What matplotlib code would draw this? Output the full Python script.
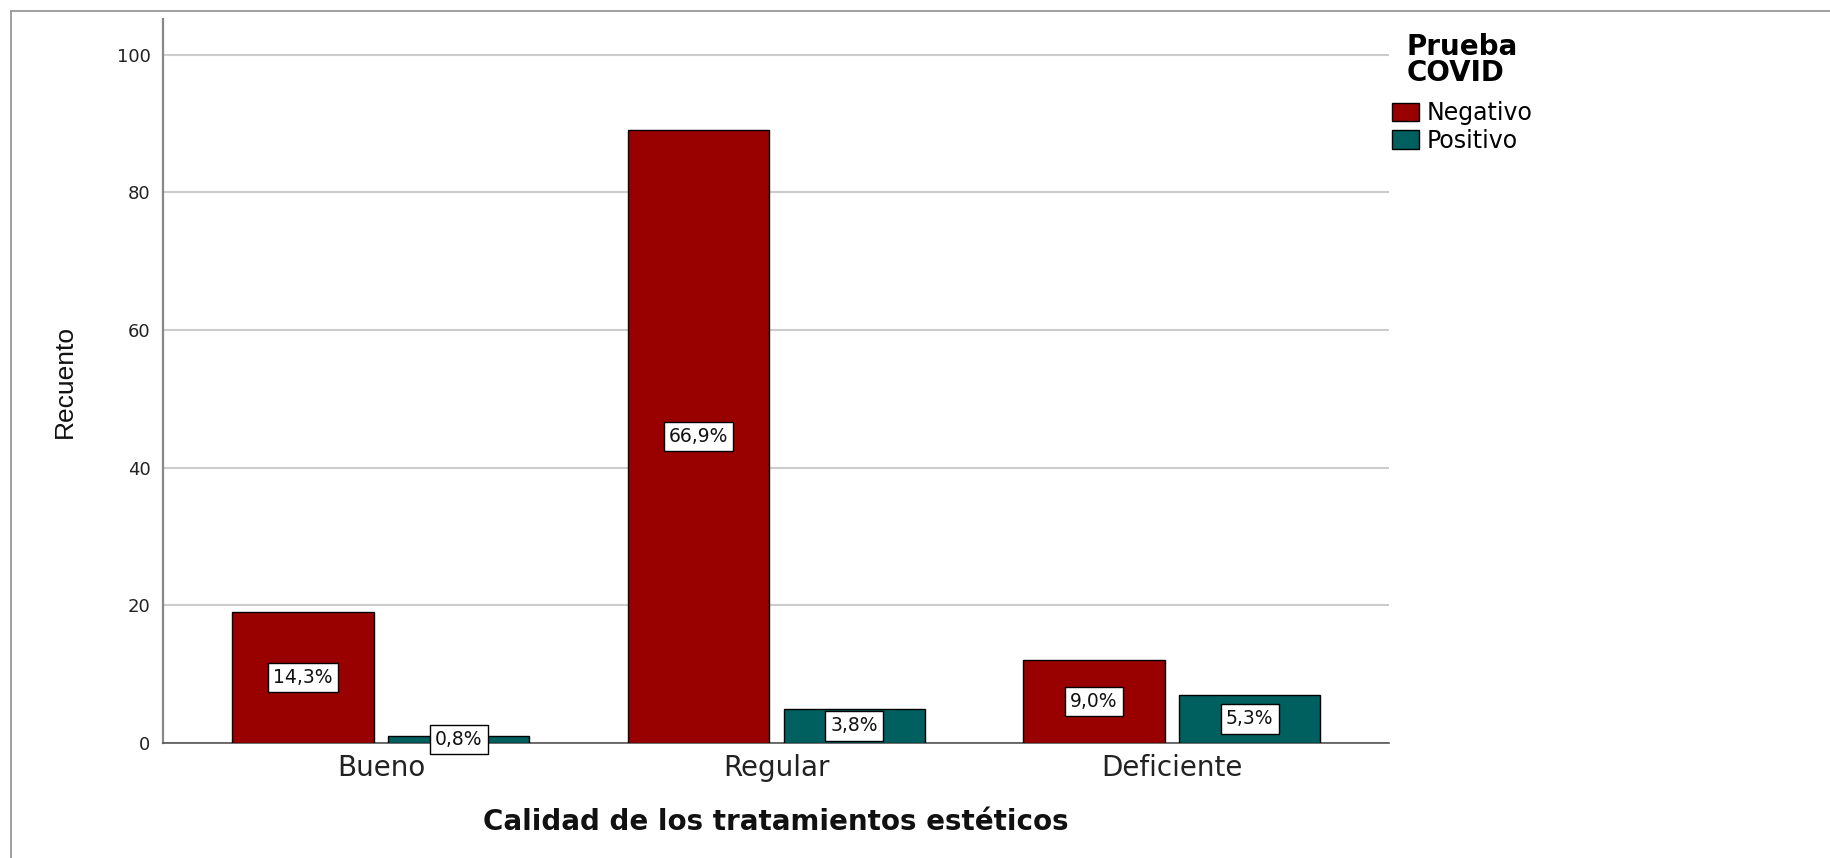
import numpy as np
import matplotlib.pyplot as plt
from matplotlib.lines import Line2D

plt.rcParams['font.family'] = ['DejaVu Sans']

# datos (recuento por calidad y prueba COVID)
categorias = ['Bueno', 'Regular', 'Deficiente']
negativo = [19, 89, 12]
positivo = [1, 5, 7]
series = ['Negativo', 'Positivo']
y_ticks = [0, 20, 40, 60, 80, 100]

total = sum(negativo) + sum(positivo)
col_neg = '#990000'
col_pos = '#005f5f'

def pct(v):
    return f'{v / total * 100:.1f}%'.replace('.', ',')

fig = plt.figure(figsize=(18.31, 8.58), dpi=100)
W, H = 1831, 858
ax = fig.add_axes([163 / W, 1 - 743 / H, (1389 - 163) / W, (743 - 19) / H])

x = np.arange(len(categorias))
w = 0.357
off = 0.197
b_neg = ax.bar(x - off, negativo, w, color=col_neg, edgecolor='black', linewidth=1, label=series[0], zorder=3)
b_pos = ax.bar(x + off, positivo, w, color=col_pos, edgecolor='black', linewidth=1, label=series[1], zorder=3)

for bars, vals in [(b_neg, negativo), (b_pos, positivo)]:
    for b, v in zip(bars, vals):
        ax.text(b.get_x() + b.get_width() / 2, v / 2, pct(v), ha='center', va='center',
                fontsize=13.5, color='#111111', zorder=5,
                bbox=dict(boxstyle='square,pad=0.28', fc='white', ec='black', lw=1))

ax.set_xlim(-0.551, 2.549)
ax.set_ylim(0, 105.2)
ax.set_yticks(y_ticks)
ax.set_xticks(x)
ax.set_xticklabels(categorias)
ax.yaxis.grid(True, color='#cccccc', linewidth=1.5)
ax.set_axisbelow(True)
for s in ['top', 'right']:
    ax.spines[s].set_visible(False)
ax.spines['left'].set_color('#888888')
ax.spines['left'].set_linewidth(1.6)
ax.spines['bottom'].set_color('#555555')
ax.spines['bottom'].set_linewidth(1.2)
ax.tick_params(axis='y', length=0, pad=9, labelsize=13, labelcolor='#222222')
ax.tick_params(axis='x', length=0, pad=8, labelsize=20, labelcolor='#222222')

ax.set_ylabel('Recuento', fontsize=19, family='Liberation Sans', color='#111111')
ax.yaxis.set_label_coords((77 - 163) / 1226, 0.5)
ax.set_xlabel('Calidad de los tratamientos estéticos', fontsize=20, fontweight='bold', color='#111111')
ax.xaxis.set_label_coords(0.5, (743 - 808) / 724)

leg = ax.legend(title='Prueba\nCOVID', loc='upper left', bbox_to_anchor=(1392 / W, 1 - 33 / H),
                bbox_transform=fig.transFigure, frameon=False, fontsize=17,
                title_fontproperties={'size': 20, 'weight': 'bold'},
                handlelength=1.15, handleheight=0.85, handletextpad=0.3,
                labelspacing=0.15, borderpad=0, borderaxespad=0)
leg.get_title().set_linespacing(0.92)
leg._legend_box.sep = 10

# marco exterior gris
fig.add_artist(Line2D([11 / W, 11 / W], [0, 1 - 11 / H], color='#999999', lw=1.3, transform=fig.transFigure))
fig.add_artist(Line2D([11 / W, 1], [1 - 11 / H, 1 - 11 / H], color='#999999', lw=1.3, transform=fig.transFigure))

fig.savefig('out.png', dpi=100)
